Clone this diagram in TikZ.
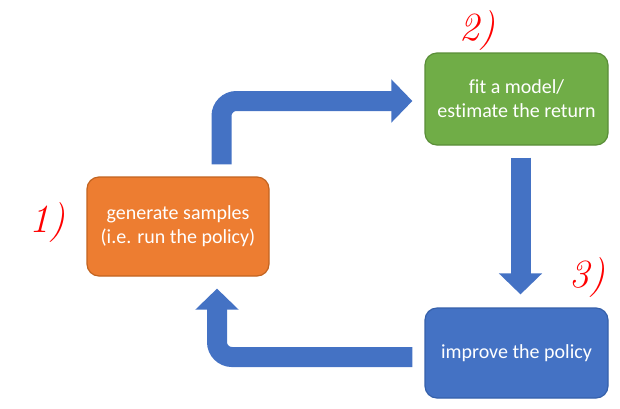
\documentclass[tikz,border=0pt]{standalone}
\usepackage{fontspec}
\setmainfont{Carlito}[Ligatures=NoCommon]
\newfontfamily\handfont{Latin Modern Roman}
\usepackage{tikz}
\usetikzlibrary{arrows.meta}
\definecolor{orangefill}{HTML}{ED7D31}
\definecolor{orangeline}{HTML}{C2631F}
\definecolor{greenfill}{HTML}{70AD47}
\definecolor{greenline}{HTML}{5A8E38}
\definecolor{bluefill}{HTML}{4472C4}
\definecolor{blueline}{HTML}{3560AA}
\tikzstyle{block} = [rectangle, rounded corners=6pt, draw, line width=0.6pt, text=white, align=center, font=\fontsize{10}{12}\selectfont]
\tikzstyle{flow} = [draw=bluefill, line width=10pt, rounded corners=7.5pt, -{Triangle[width=21pt,length=10.5pt]}]
\tikzstyle{stepnum} = [text=red, font=\handfont\itshape\fontsize{20}{20}\selectfont]

\begin{document}
\begin{tikzpicture}
  \useasboundingbox (0pt,0pt) rectangle (310pt,-204pt);
  \draw (89.0pt, -113.25pt)node[block, fill=orangefill, draw=orangeline, minimum width=91pt, minimum height=49.5pt](samples){generate samples\\(i.e. run the policy)};
  \draw (258.25pt, -49.5pt)node[block, fill=greenfill, draw=greenline, minimum width=91.5pt, minimum height=46pt](model){fit a model/\\estimate the return};
  \draw (258.25pt, -176.5pt)node[block, fill=bluefill, draw=blueline, minimum width=91.5pt, minimum height=45pt](policy){improve the policy};
  \draw (23.5pt, -111.5pt)node[stepnum](m1){1)};
  \draw (238.5pt, -15.5pt)node[stepnum](m2){2)};
  \draw (293.5pt, -139.0pt)node[stepnum](m3){3)};
  \draw[flow] ([xshift=21.75pt,yshift=6pt]samples.north) |- ([xshift=-6pt,yshift=-1pt]model.west);
  \draw[flow] ([xshift=2pt,yshift=-6pt]model.south) -- ([xshift=2pt,yshift=6.5pt]policy.north);
  \draw[flow] ([xshift=-6pt,yshift=-2pt]policy.west) -| ([xshift=19.5pt,yshift=-6pt]samples.south);
\end{tikzpicture}
\end{document}
